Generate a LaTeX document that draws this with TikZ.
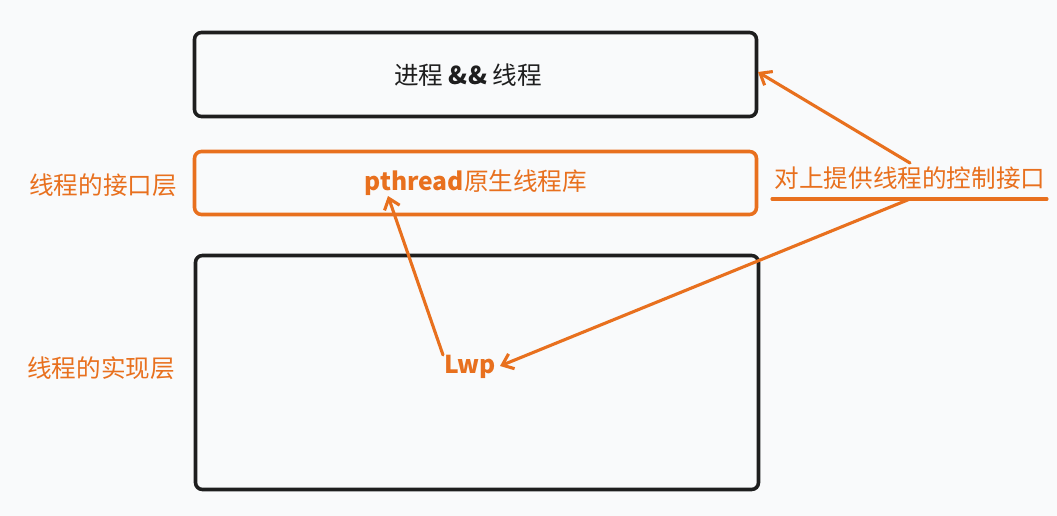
\documentclass[tikz,border=0pt]{standalone}
\usepackage{fontspec}
\setmainfont{Noto Sans CJK SC}
\usetikzlibrary{arrows.meta}
\definecolor{org}{RGB}{232,112,30}
\definecolor{bg}{RGB}{249,250,251}
\definecolor{ink}{RGB}{30,30,30}
\begin{document}
\begin{tikzpicture}[x=1pt,y=-1pt,
 box/.style={draw=ink, line width=3.6pt, rounded corners=7pt, inner sep=0pt},
 obox/.style={box, draw=org},
 lbl/.style={font=\fontsize{24.6}{28}\selectfont, inner sep=0pt},
 arr/.style={draw=org, line width=3.1pt, -{Straight Barb[length=10pt,width=16pt]}, line cap=round}
]
\fill[bg] (0,0) rectangle (1057,516);
\useasboundingbox (0,0) rectangle (1057,516);
% boxes
\node[box, minimum width=562pt, minimum height=84pt] (top) at (475.5,74.5) {};
\node[obox, minimum width=562pt, minimum height=63pt] (mid) at (475.5,183) {};
\node[box, minimum width=563pt, minimum height=234pt] (bot) at (477,372.5) {};
% texts
\node[lbl, text=ink] (toptext) at (468,75) {进程 \textbf{\&\&} 线程};
\node[lbl, text=org] (lib) at (476,183) {\textbf{pthread}原生线程库};
\node[lbl, text=org] (lwp) at (470,367) {\textbf{Lwp}};
\node[lbl, text=org] (ifl) at (103,185) {线程的接口层};
\node[lbl, text=org] (iml) at (101,368) {线程的实现层};
\node[lbl, text=org] (ctl) at (910,178) {对上提供线程的控制接口};
% underline
\coordinate (ulA) at (772,199);
\coordinate (ulB) at (1047,199);
\coordinate (ulM) at (910,199);
\draw[org, line width=3.1pt, line cap=round] (ulA) -- (ulB);
% arrows
\coordinate (ctlTop) at (910,163);
\coordinate (topIn) at (758,72);
\coordinate (lwpIn) at (500,366);
\coordinate (lwpTop) at (443,355);
\coordinate (libIn) at (388,196);
\draw[arr] (ctlTop) -- (topIn);
\draw[arr] (ulM) -- (lwpIn);
\draw[arr] (lwpTop) -- (libIn);
\end{tikzpicture}
\end{document}
